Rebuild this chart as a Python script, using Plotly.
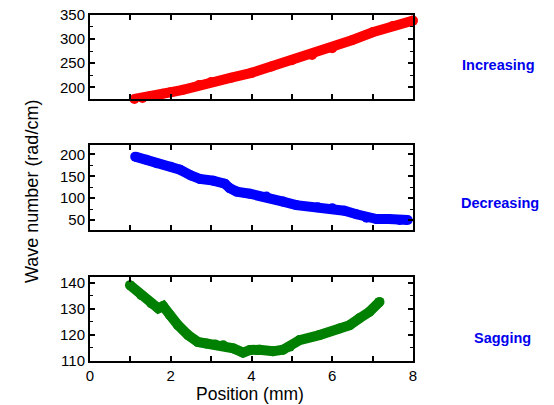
import plotly.graph_objects as go

# Increasing (red)
inc_x = [1.1, 1.3, 1.5, 1.8, 2.0, 2.3, 2.7, 3.0, 3.5, 4.0, 4.5, 5.0, 5.5, 6.0, 6.5, 7.0, 7.5, 8.0]
inc_y = [176, 178, 182, 187, 190, 195, 205, 211, 220, 230, 243, 256, 267, 281, 298, 314, 327, 338]

# Decreasing (blue)
dec_x = [1.12, 1.4, 1.65, 2.0, 2.23, 2.5, 2.72, 3.05, 3.34, 3.46, 3.63, 3.96, 4.37, 4.78, 5.11, 5.64, 6.0, 6.3, 6.6, 6.85, 7.1, 7.4, 7.67, 7.87]
dec_y = [195, 188, 180, 172, 165, 152, 144, 140, 133, 123, 115, 110, 103.5, 92, 84, 79, 77, 71, 63, 55, 52, 52, 50, 50]

# Sagging (green)
sag_x = [0.99, 1.27, 1.52, 1.69, 1.81, 1.98, 2.18, 2.43, 2.67, 2.88, 3.1, 3.3, 3.55, 3.79, 3.96, 4.2, 4.53, 4.78, 4.95, 5.19, 5.68, 6.18, 6.43, 6.67, 6.92, 7.17]
sag_y = [139, 135.2, 132, 130.1, 131, 127.5, 123.7, 119.9, 117.3, 116.7, 116.3, 116, 114.8, 113.2, 114.2, 114.3, 113.7, 114.3, 115.5, 118, 119.9, 122.4, 123.7, 126.3, 128.8, 132.6]

labels = ["Increasing", "Decreasing", "Sagging"]

fig = go.Figure()
series = [(inc_x, inc_y, "#ff0000", "y"), (dec_x, dec_y, "#0000ff", "y2"), (sag_x, sag_y, "#008000", "y3")]
for i, (xs, ys, c, ya) in enumerate(series):
    fig.add_trace(go.Scatter(x=xs, y=ys, mode="lines+markers", cliponaxis=False,
                             line=dict(color=c, width=10),
                             marker=dict(color=c, size=10),
                             xaxis="x" if i == 0 else f"x{i+1}", yaxis=ya, showlegend=False))

W, H = 554, 405


def px(v):
    return v / W


def py(v):
    return 1 - v / H


xdom = [px(90), px(413)]
ydoms = [[py(99), py(14.7)], [py(230), py(145.3)], [py(361), py(277.3)]]
yranges = [[176, 350.2], [27, 221], [110, 142]]
ydticks = [50, 50, 10]
yminor = [25, 25, 5]
yt0 = [200, 50, 110]

axfont = dict(family="Liberation Sans, Arial, sans-serif", size=15, color="black")
layout = dict(width=W, height=H, margin=dict(l=0, r=0, t=0, b=0, autoexpand=False),
              plot_bgcolor="white", paper_bgcolor="white", showlegend=False)
for i in range(3):
    xk = "xaxis" if i == 0 else f"xaxis{i+1}"
    yk = "yaxis" if i == 0 else f"yaxis{i+1}"
    ya = "y" if i == 0 else f"y{i+1}"
    xa = "x" if i == 0 else f"x{i+1}"
    layout[xk] = dict(domain=xdom, range=[0, 8], anchor=ya, showgrid=False, zeroline=False,
                      automargin=False,
                      showline=True, linecolor="black", linewidth=2, mirror="ticks",
                      ticks="inside", ticklen=5, tickwidth=1.5, tickcolor="black",
                      tickvals=[0, 1, 2, 3, 4, 5, 6, 7, 8],
                      ticktext=["0", "", "2", "", "4", "", "6", "", "8"],
                      showticklabels=(i == 2), tickfont=axfont, ticklabeloverflow="allow")
    layout[yk] = dict(domain=ydoms[i], range=yranges[i], anchor=xa, showgrid=False, zeroline=False,
                      automargin=False,
                      showline=True, linecolor="black", linewidth=2, mirror="ticks",
                      ticks="inside", ticklen=5, tickwidth=1.5, tickcolor="black",
                      tick0=yt0[i], dtick=ydticks[i], tickfont=axfont, ticklabeloverflow="allow",
                      minor=dict(ticks="inside", ticklen=3, tickwidth=1, tickcolor="black",
                                 dtick=yminor[i], tick0=yt0[i], showgrid=False))
fig.update_layout(**layout)

titlefont = dict(family="Liberation Sans, Arial, sans-serif", size=17.5, color="black")
fig.add_annotation(text="Position (mm)", x=px(250), y=py(394), xref="paper", yref="paper",
                   showarrow=False, font=titlefont, xanchor="center", yanchor="middle")
fig.add_annotation(text="Wave number (rad/cm)", x=px(32), y=py(192), xref="paper", yref="paper",
                   showarrow=False, font=dict(family="Liberation Sans, Arial, sans-serif", size=18, color="black"),
                   textangle=-90, xanchor="center", yanchor="middle")
lab_pos = [(498, 65), (500, 203), (502, 338)]
for t, (lx, ly) in zip(labels, lab_pos):
    fig.add_annotation(text=f"<b>{t}</b>", x=px(lx), y=py(ly), xref="paper", yref="paper",
                       showarrow=False, xanchor="center", yanchor="middle",
                       font=dict(family="Liberation Sans, Arial, sans-serif", size=14.5, color="#0000ee"))

fig.write_html("out.html", config={"displayModeBar": False},
               post_script="document.body.style.margin='0';")
